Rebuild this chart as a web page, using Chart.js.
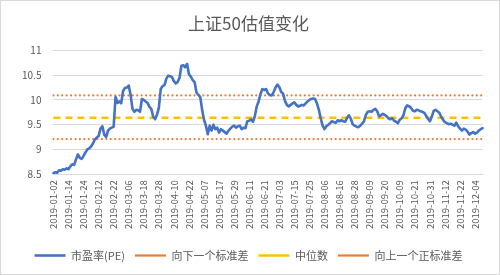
<!DOCTYPE html>
<html>
<head>
<meta charset="utf-8">
<script src="https://cdn.jsdelivr.net/npm/chart.js@4.4.1/dist/chart.umd.min.js"></script>
<style>
html,body{margin:0;padding:0;background:#fff;}
#wrap{width:500px;height:275px;}
</style>
</head>
<body>
<div id="wrap"><canvas id="c" width="500" height="275"></canvas></div>
<script>
// Trading days of 2019 by month (Jan..Dec)
const tradingDays = [
  [2,3,4,7,8,9,10,11,14,15,16,17,18,21,22,23,24,25,28,29,30,31],
  [1,11,12,13,14,15,18,19,20,21,22,25,26,27,28],
  [1,4,5,6,7,8,11,12,13,14,15,18,19,20,21,22,25,26,27,28,29],
  [1,2,3,4,8,9,10,11,12,15,16,17,18,19,22,23,24,25,26,29,30],
  [6,7,8,9,10,13,14,15,16,17,20,21,22,23,24,27,28,29,30,31],
  [3,4,5,6,10,11,12,13,14,17,18,19,20,21,24,25,26,27,28],
  [1,2,3,4,5,8,9,10,11,12,15,16,17,18,19,22,23,24,25,26,29,30,31],
  [1,2,5,6,7,8,9,12,13,14,15,16,19,20,21,22,23,26,27,28,29,30],
  [2,3,4,5,6,9,10,11,12,16,17,18,19,20,23,24,25,26,27,30],
  [8,9,10,11,14,15,16,17,18,21,22,23,24,25,28,29,30,31],
  [1,4,5,6,7,8,11,12,13,14,15,18,19,20,21,22,25,26,27,28,29],
  [2,3,4,5,6,9,10]
];

// 市盈率(PE) by month
const peJan = [8.52,8.54,8.53,8.58,8.57,8.60,8.59,8.62,8.60,8.66,8.70,8.69,8.80,8.90,8.83,8.81,8.87,8.94,9.00,9.02,9.06,9.12];
const peFeb = [9.20,9.24,9.27,9.42,9.47,9.30,9.25,9.38,9.42,9.44,9.46,10.06,9.94,9.97,9.93];
const peMar = [10.18,10.24,10.25,10.29,10.10,9.82,9.76,9.80,9.79,9.76,10.02,10.00,9.97,9.94,9.86,9.82,9.66,9.61,9.70,9.84,10.22];
const peApr = [10.28,10.30,10.43,10.49,10.48,10.46,10.38,10.33,10.36,10.45,10.69,10.70,10.66,10.73,10.52,10.47,10.40,10.36,10.15,10.10,10.06];
const peMay = [9.80,9.60,9.48,9.31,9.48,9.38,9.50,9.41,9.44,9.34,9.41,9.38,9.35,9.32,9.38,9.42,9.46,9.48,9.44,9.47];
const peJun = [9.48,9.41,9.44,9.43,9.57,9.58,9.61,9.56,9.67,9.87,9.97,10.12,10.22,10.20,10.22,10.13,10.10,10.09,10.16];
const peJul = [10.25,10.31,10.26,10.16,10.13,9.98,9.90,9.87,9.90,9.93,9.95,9.90,9.87,9.88,9.90,9.89,9.93,9.97,10.00,10.02,10.03,10.02,9.93];
const peAug = [9.80,9.63,9.48,9.41,9.47,9.50,9.53,9.57,9.55,9.54,9.59,9.57,9.59,9.57,9.56,9.64,9.69,9.62,9.51,9.48,9.46,9.45];
const peSep = [9.48,9.52,9.57,9.70,9.76,9.77,9.76,9.80,9.82,9.77,9.67,9.69,9.72,9.70,9.67,9.63,9.61,9.63,9.58,9.56];
const peOct = [9.53,9.60,9.63,9.70,9.84,9.89,9.87,9.84,9.78,9.77,9.80,9.79,9.77,9.76,9.74,9.68,9.62,9.57];
const peNov = [9.66,9.78,9.80,9.77,9.74,9.66,9.60,9.55,9.53,9.51,9.52,9.50,9.48,9.54,9.47,9.42,9.38,9.42,9.40,9.36,9.30];
const peDec = [9.33,9.35,9.32,9.34,9.38,9.41,9.43];

const lowerStd = 9.21;   // 向下一个标准差
const median = 9.64;     // 中位数
const upperStd = 10.09;  // 向上一个正标准差

const yTicks = [8.5, 9, 9.5, 10, 10.5, 11];
const tickEvery = 8;

const seriesNames = ['市盈率(PE)', '向下一个标准差', '中位数', '向上一个正标准差'];
const title = '上证50估值变化';

// build
const pad = n => String(n).padStart(2, '0');
const labels = [];
tradingDays.forEach((days, m) => days.forEach(d => labels.push('2019-' + pad(m + 1) + '-' + pad(d))));
const pe = [].concat(peJan, peFeb, peMar, peApr, peMay, peJun, peJul, peAug, peSep, peOct, peNov, peDec);
const flat = v => labels.map(() => v);

const FONT = "'Noto Sans CJK SC','Noto Sans',sans-serif";
Chart.defaults.font.family = FONT;
Chart.defaults.color = '#595959';

const frame = {
  id: 'frame',
  beforeDraw(chart) {
    const ctx = chart.ctx;
    ctx.save();
    ctx.fillStyle = '#fff';
    ctx.fillRect(0, 0, chart.width, chart.height);
    ctx.strokeStyle = '#d9d9d9';
    ctx.lineWidth = 1;
    ctx.strokeRect(0.5, 0.5, chart.width - 1, chart.height - 1);
    ctx.restore();
  }
};

new Chart(document.getElementById('c'), {
  type: 'line',
  data: {
    labels: labels,
    datasets: [
      { label: seriesNames[0], data: pe, borderColor: '#4472C4', backgroundColor: '#4472C4', borderWidth: 2.6,
        pointRadius: 0, tension: 0, borderJoinStyle: 'round', borderCapStyle: 'round', pointStyle: 'line' },
      { label: seriesNames[1], data: flat(lowerStd), borderColor: '#ED7D31', backgroundColor: '#ED7D31', borderWidth: 2.2,
        borderDash: [0.01, 4.4], borderCapStyle: 'round', pointRadius: 0, pointStyle: 'line' },
      { label: seriesNames[2], data: flat(median), borderColor: '#FFC000', backgroundColor: '#FFC000', borderWidth: 2.5,
        borderDash: [7, 5], pointRadius: 0, pointStyle: 'line' },
      { label: seriesNames[3], data: flat(upperStd), borderColor: '#ED7D31', backgroundColor: '#ED7D31', borderWidth: 2.2,
        borderDash: [0.01, 4.4], borderCapStyle: 'round', pointRadius: 0, pointStyle: 'line' }
    ]
  },
  options: {
    responsive: false,
    animation: false,
    events: [],
    layout: { padding: { left: 10, right: 13, top: 8, bottom: 4 } },
    plugins: {
      title: { display: true, text: title, color: '#595959', font: { size: 17, weight: 'normal', family: FONT },
        padding: { top: 5, bottom: 17 } },
      legend: { position: 'bottom',
        labels: { usePointStyle: true, pointStyleWidth: 31, boxHeight: 8, padding: 10, color: '#595959',
          font: { size: 11, family: FONT } } },
      tooltip: { enabled: false }
    },
    scales: {
      x: {
        grid: { display: false, drawTicks: false },
        border: { display: true, color: '#d9d9d9', width: 1 },
        afterFit: s => { s.height += 5; },
        ticks: { autoSkip: false, minRotation: 90, maxRotation: 90, padding: 6, color: '#595959',
          font: { size: 9.5, family: FONT },
          callback: function (value, index) { return index % tickEvery === 0 ? this.getLabelForValue(value) : ''; } }
      },
      y: {
        min: yTicks[0], max: yTicks[yTicks.length - 1],
        afterBuildTicks: axis => { axis.ticks = yTicks.map(v => ({ value: v })); },
        grid: { color: '#d9d9d9', lineWidth: 1, drawTicks: false },
        border: { display: false },
        ticks: { padding: 12, color: '#595959', font: { size: 10, family: FONT },
          callback: v => String(v) }
      }
    }
  },
  plugins: [frame]
});
</script>
</body>
</html>
